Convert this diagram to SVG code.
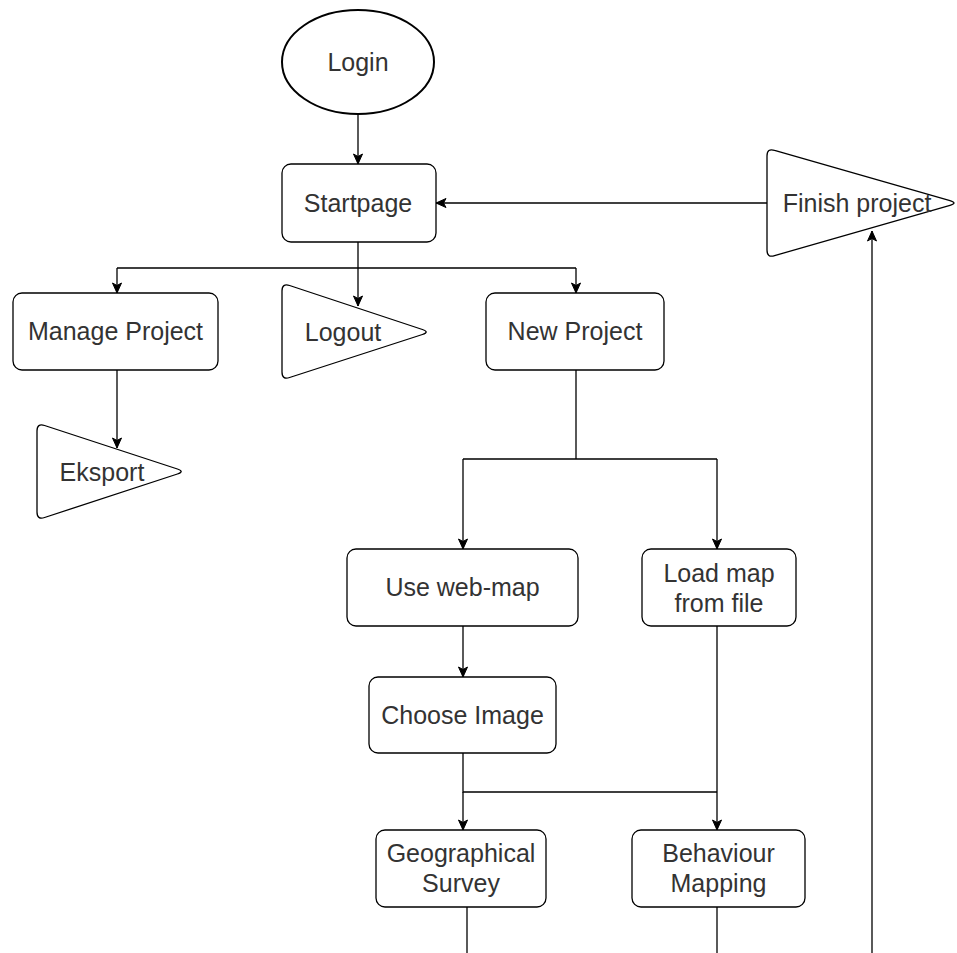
<svg xmlns="http://www.w3.org/2000/svg" width="957" height="953" viewBox="0 0 957 953">
<style>
.box{fill:#fff;stroke:#000;stroke-width:1.3}
.ell{fill:#fff;stroke:#000;stroke-width:2}
.lbl{font-family:"Liberation Sans",Arial,sans-serif;font-size:25px;fill:#333;text-anchor:middle}
.edge{fill:none;stroke:#000;stroke-width:1.3}
.arr{fill:none;stroke:#000;stroke-width:1.3;marker-end:url(#ah)}
</style>
<defs>
<marker id="ah" markerUnits="userSpaceOnUse" markerWidth="12" markerHeight="12" viewBox="0 0 12 12" refX="11" refY="6" orient="auto">
<path d="M1,1.5 L11,6 L1,10.5 L3.5,6 Z" fill="#000" stroke="#000" stroke-width="1"/>
</marker>
</defs>
<rect width="957" height="953" fill="#fff"/>
<g id="connectors">
<path class="arr" d="M358,114 L358,164"/>
<path class="arr" d="M767,203 L436,203"/>
<path class="arr" d="M872,953 L872,231"/>
<path class="edge" d="M358,242 L358,268 M117,268 L576,268"/>
<path class="arr" d="M117,268 L117,293"/>
<path class="arr" d="M358,268 L358,306"/>
<path class="arr" d="M576,268 L576,293"/>
<path class="arr" d="M117,370 L117,448"/>
<path class="edge" d="M576,370 L576,459 M463,459 L717,459"/>
<path class="arr" d="M463,459 L463,549"/>
<path class="arr" d="M717,459 L717,549"/>
<path class="arr" d="M463,626 L463,677"/>
<path class="edge" d="M463,753 L463,792 L717,792 M717,626 L717,792"/>
<path class="arr" d="M463,792 L463,830"/>
<path class="arr" d="M717,792 L717,830"/>
<path class="edge" d="M467,907 L467,953"/>
<path class="edge" d="M717,907 L717,953"/>
</g>
<g id="login">
<ellipse class="ell" cx="358" cy="62" rx="76" ry="52"/>
<text class="lbl" x="358" y="71">Login</text>
</g>
<g id="startpage">
<rect class="box" x="282" y="164" width="154" height="78" rx="9"/>
<text class="lbl" x="358" y="212">Startpage</text>
</g>
<g id="finish-project">
<path class="box" d="M767,156 Q767,148 774.6,150.4 L950,200.6 Q958,203 950,205.4 L774.6,255.6 Q767,258 767,250 Z"/>
<text class="lbl" x="857" y="212">Finish project</text>
</g>
<g id="manage-project">
<rect class="box" x="13" y="293" width="205" height="77" rx="9"/>
<text class="lbl" x="115.5" y="340">Manage Project</text>
</g>
<g id="logout">
<path class="box" d="M282,291 Q282,283 289.6,285.5 L422.4,329.5 Q430,332 422.4,334.5 L289.6,377.5 Q282,380 282,372 Z"/>
<text class="lbl" x="343" y="341">Logout</text>
</g>
<g id="new-project">
<rect class="box" x="486" y="293" width="178" height="77" rx="9"/>
<text class="lbl" x="575" y="340">New Project</text>
</g>
<g id="eksport">
<path class="box" d="M37,431 Q37,423 44.6,425.5 L177.4,469 Q185,471.5 177.4,474 L44.6,517.5 Q37,520 37,512 Z"/>
<text class="lbl" x="102" y="481">Eksport</text>
</g>
<g id="use-web-map">
<rect class="box" x="347" y="549" width="231" height="77" rx="9"/>
<text class="lbl" x="462.5" y="596">Use web-map</text>
</g>
<g id="load-map">
<rect class="box" x="642" y="549" width="154" height="77" rx="9"/>
<text class="lbl" x="719" y="582">Load map</text>
<text class="lbl" x="719" y="612">from file</text>
</g>
<g id="choose-image">
<rect class="box" x="369" y="677" width="187" height="76" rx="9"/>
<text class="lbl" x="462.5" y="724">Choose Image</text>
</g>
<g id="geographical-survey">
<rect class="box" x="376" y="830" width="170" height="77" rx="9"/>
<text class="lbl" x="461" y="862">Geographical</text>
<text class="lbl" x="461" y="892">Survey</text>
</g>
<g id="behaviour-mapping">
<rect class="box" x="632" y="830" width="173" height="77" rx="9"/>
<text class="lbl" x="718.5" y="862">Behaviour</text>
<text class="lbl" x="718.5" y="892">Mapping</text>
</g>
</svg>
